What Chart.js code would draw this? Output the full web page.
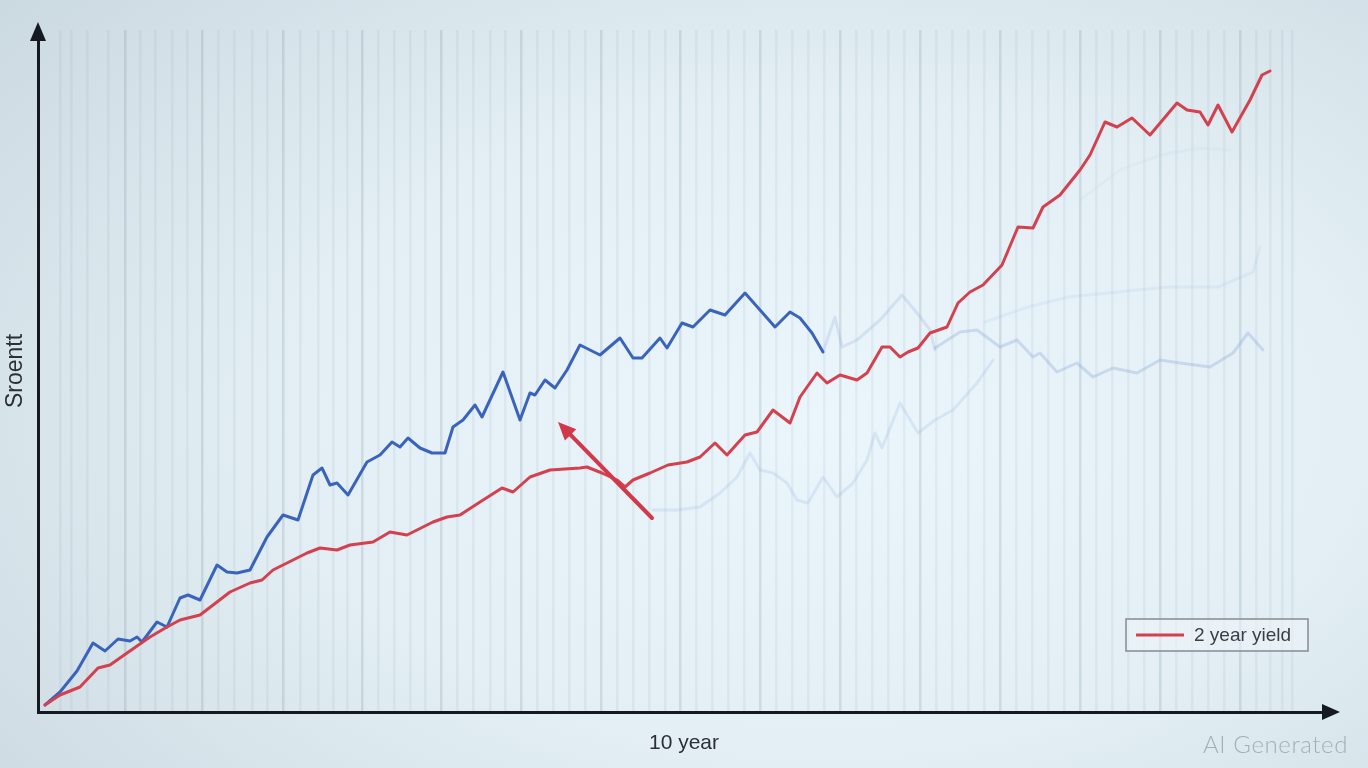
<!DOCTYPE html>
<html><head><meta charset="utf-8">
<script src="https://cdn.jsdelivr.net/npm/chart.js@4.4.1/dist/chart.umd.min.js"></script>
<style>
html,body{margin:0;padding:0;width:1368px;height:768px;overflow:hidden;}
body{background: radial-gradient(ellipse 78% 85% at 60% 55%, #ebf6fc 0%, #e3eff5 50%, #cbd9e0 100%);}
#wrap{position:relative;width:1368px;height:768px;}
canvas{position:absolute;left:0;top:0;}
#wm{position:absolute;left:1203px;top:729px;font:300 24px Lato,'Open Sans',sans-serif;color:#a4afb6;letter-spacing:0.6px;}
</style></head>
<body><div id="wrap"><canvas id="c" width="1368" height="768"></canvas><div id="wm">AI Generated</div></div>
<script>
// ---- data (x, y) ----
const twoYear = [[7,7],[22,17],[42,25],[60,44],[72,47],[89,59],[112,75],[129,85],[142,92],[162,97],[179,110],[192,120],[212,129],[224,132],[235,142],[249,149],[269,159],[282,164],[299,162],[312,167],[335,170],[352,180],[369,177],[395,190],[409,195],[422,197],[442,210],[464,224],[475,220],[492,235],[512,242],[542,244],[549,245],[564,239],[579,232],[587,225],[595,232],[612,239],[630,247],[649,250],[662,255],[677,269],[689,257],[707,277],[719,280],[735,302],[752,289],[762,315],[779,339],[789,329],[802,337],[819,332],[829,339],[844,365],[852,365],[862,355],[870,360],[880,364],[892,379],[909,385],[920,409],[932,420],[945,427],[964,447],[980,485],[995,484],[1005,505],[1022,517],[1042,542],[1052,557],[1067,590],[1079,585],[1094,594],[1112,577],[1139,609],[1149,602],[1162,600],[1170,587],[1180,607],[1194,580],[1212,612],[1224,637],[1232,641]];
const tenYear = [[7,7],[22,20],[39,41],[55,69],[67,61],[80,73],[92,71],[99,75],[104,70],[119,90],[129,85],[142,114],[150,117],[162,112],[179,147],[189,140],[199,139],[212,142],[229,175],[245,197],[260,192],[275,237],[284,244],[292,227],[299,229],[310,217],[329,250],[342,257],[354,270],[362,265],[370,274],[382,264],[394,259],[407,259],[415,285],[425,292],[437,307],[444,295],[465,340],[482,292],[492,319],[497,317],[507,332],[517,324],[529,342],[542,367],[562,357],[582,374],[595,354],[604,354],[622,374],[629,364],[644,389],[655,385],[672,402],[687,397],[707,419],[722,402],[737,385],[752,400],[762,394],[774,379],[785,360]];
const ghostHump = [[785,360],[797,395],[804,365],[819,372],[842,392],[864,417],[879,399],[892,382],[897,362]];
const ghostFlat = [[897,364],[922,380],[939,382],[962,365],[979,372],[995,355],[1002,359],[1019,340],[1039,349],[1055,335],[1075,344],[1099,339],[1122,352],[1142,349],[1172,345],[1195,359],[1210,379],[1225,362]];
const ghostLow = [[615,202],[639,202],[662,205],[682,219],[699,235],[712,259],[722,242],[735,239],[749,229],[759,212],[770,209],[785,235],[799,215],[815,229],[829,252],[837,279],[844,264],[862,309],[880,279],[897,292],[915,302],[939,329],[955,352]];
const ghostHigh = [[947,390],[990,405],[1030,415],[1080,420],[1130,425],[1180,425],[1215,440],[1222,465]];
const ghostTop = [[1042,512],[1082,542],[1122,557],[1162,564],[1192,562]];
const arrowFrom = [614,194];
const arrowTo = [520,290];
const gridTicks = [22,33,49,70,87,102,117,134,149,164,180,196,214,229,245,262,280,295,309,324,340,356,372,387,403,419,435,452,467,483,499,515,531,547,563,579,595,611,627,642,658,674,690,706,722,738,754,770,786,802,818,834,850,866,882,898,914,930,946,962,978,994,1010,1026,1042,1058,1074,1090,1106,1122,1138,1154,1170,1186,1202,1218,1232,1244,1254];
const xRange = [0,1292];
const yRange = [0,682];
const xTitle = '10 year';
const yTitle = 'Sroentt';
const legendLabel = '2 year yield';

const pts = a => a.map(p => ({x:p[0], y:p[1]}));
const ghost = (a, alpha) => ({label:'', data:pts(a), borderColor:`rgba(130,158,212,${alpha})`, borderWidth:3});

const decor = {
  id:'decor',
  afterDraw(chart){
    const ctx = chart.ctx, a = chart.chartArea, xs = chart.scales.x, ys = chart.scales.y;
    ctx.save();
    ctx.fillStyle = '#151a22';
    ctx.beginPath();
    ctx.moveTo(a.left, a.top-8); ctx.lineTo(a.left-8, a.top+11); ctx.lineTo(a.left+8, a.top+11); ctx.closePath(); ctx.fill();
    ctx.beginPath();
    ctx.moveTo(a.right+10, a.bottom); ctx.lineTo(a.right-8, a.bottom-8); ctx.lineTo(a.right-8, a.bottom+8); ctx.closePath(); ctx.fill();
    const x0 = xs.getPixelForValue(arrowFrom[0]), y0 = ys.getPixelForValue(arrowFrom[1]);
    const x1 = xs.getPixelForValue(arrowTo[0]), y1 = ys.getPixelForValue(arrowTo[1]);
    const ang = Math.atan2(y1-y0, x1-x0), hl = 18, hw = 8;
    const bx = x1 - Math.cos(ang)*hl, by = y1 - Math.sin(ang)*hl;
    ctx.strokeStyle = '#d2384a'; ctx.fillStyle = '#d2384a'; ctx.lineWidth = 4; ctx.lineCap='round';
    ctx.beginPath(); ctx.moveTo(x0,y0); ctx.lineTo(bx,by); ctx.stroke();
    ctx.beginPath(); ctx.moveTo(x1,y1);
    ctx.lineTo(bx + Math.sin(ang)*hw, by - Math.cos(ang)*hw);
    ctx.lineTo(bx - Math.sin(ang)*hw, by + Math.cos(ang)*hw);
    ctx.closePath(); ctx.fill();
    const ds = chart.data.datasets[0];
    const bw = 182, bh = 32, lx = a.right - 22 - bw, ly = a.bottom - 61 - bh;
    ctx.fillStyle = 'rgba(236,244,248,0.55)';
    ctx.fillRect(lx, ly, bw, bh);
    ctx.strokeStyle = '#8a9199'; ctx.lineWidth = 1.6;
    ctx.strokeRect(lx, ly, bw, bh);
    ctx.strokeStyle = ds.borderColor; ctx.lineWidth = 3; ctx.lineCap='butt';
    ctx.beginPath(); ctx.moveTo(lx+10, ly+bh/2); ctx.lineTo(lx+58, ly+bh/2); ctx.stroke();
    ctx.fillStyle = '#3a3f46'; ctx.font = '19px "Liberation Sans", Arial, sans-serif';
    ctx.textBaseline = 'middle';
    ctx.fillText(legendLabel, lx+68, ly+bh/2+1);
    ctx.restore();
  }
};

new Chart(document.getElementById('c'), {
  type:'line',
  data:{datasets:[
    {label:legendLabel, data:pts(twoYear), borderColor:'#d4404e', borderWidth:3},
    {label:'10 year yield', data:pts(tenYear), borderColor:'#3a63bd', borderWidth:3},
    ghost(ghostHump, 0.22),
    ghost(ghostFlat, 0.30),
    ghost(ghostLow, 0.18),
    ghost(ghostHigh, 0.10),
    ghost(ghostTop, 0.05)
  ]},
  options:{
    responsive:false, animation:false, events:[],
    layout:{padding:{left:1,right:38,top:30,bottom:12.4}},
    plugins:{legend:{display:false}, tooltip:{enabled:false}},
    elements:{point:{radius:0}, line:{tension:0, borderJoinStyle:'round', borderCapStyle:'round'}},
    scales:{
      x:{type:'linear', min:xRange[0], max:xRange[1],
        afterBuildTicks:s => { s.ticks = gridTicks.map(v => ({value:v})); },
        ticks:{display:false},
        grid:{display:true, drawTicks:false, lineWidth:2.5,
          color:c => (c.index % 5 === 4) ? 'rgba(110,130,145,0.20)' : 'rgba(130,150,165,0.10)'},
        border:{display:true, color:'#151a22', width:3},
        title:{display:true, text:xTitle, color:'#2b3037', font:{family:'"Liberation Sans", Arial, sans-serif', size:21}, padding:{top:18.4,bottom:0}}
      },
      y:{type:'linear', min:yRange[0], max:yRange[1],
        ticks:{display:false},
        grid:{display:false, drawTicks:false},
        border:{display:true, color:'#151a22', width:3},
        title:{display:true, text:yTitle, color:'#2b3037', font:{family:'"Liberation Sans", Arial, sans-serif', size:23}, padding:{top:1,bottom:8.4}}
      }
    }
  },
  plugins:[decor]
});
</script>
</body></html>
